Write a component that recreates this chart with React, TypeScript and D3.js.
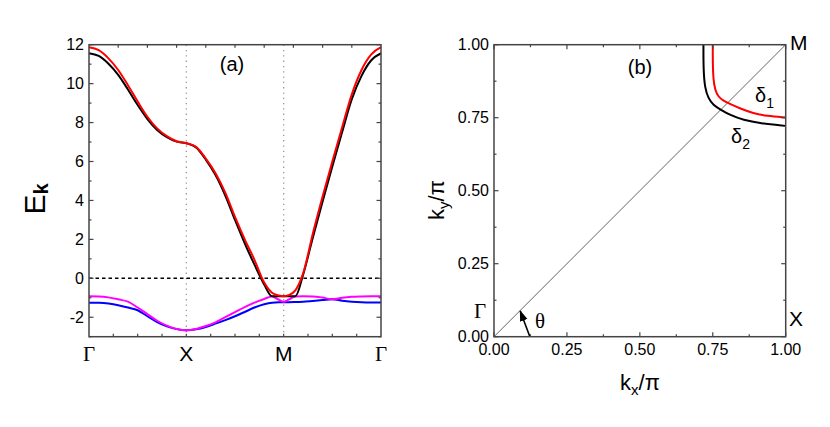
import React from 'react';
import * as d3 from 'd3';

// path Γ-X-M-Γ, each segment one unit
const kPath = [0, 0.1, 0.2, 0.3, 0.4, 0.5, 0.6, 0.7, 0.8, 0.9, 1.0, 1.1, 1.2, 1.3, 1.4, 1.5, 1.6, 1.7, 1.8, 1.88, 1.95, 2.0, 2.05, 2.12, 2.2, 2.3, 2.4, 2.5, 2.6, 2.7, 2.8, 2.9, 3.0];
const bandBlack = [11.56, 11.42, 11.02, 10.45, 9.7, 8.9, 8.18, 7.62, 7.25, 7.02, 6.94, 6.72, 6.1, 5.3, 4.25, 3.0, 1.8, 0.7, -0.32, -0.92, -0.92, -0.92, -0.92, -0.92, 0.19, 2.1, 3.95, 5.75, 7.5, 9.2, 10.4, 11.2, 11.56];
const bandRed = [11.87, 11.72, 11.3, 10.7, 9.92, 9.08, 8.3, 7.7, 7.3, 7.04, 6.94, 6.75, 6.15, 5.4, 4.4, 3.15, 2.0, 0.95, -0.22, -0.74, -0.88, -0.92, -0.87, -0.62, 0.25, 2.3, 4.2, 6.0, 7.75, 9.45, 10.7, 11.5, 11.87];
const bandMagenta = [-0.92, -0.93, -0.98, -1.08, -1.2, -1.5, -1.84, -2.18, -2.43, -2.6, -2.67, -2.6, -2.45, -2.26, -2.0, -1.74, -1.48, -1.25, -1.06, -0.93, -1.1, -1.21, -1.1, -0.93, -0.92, -0.93, -0.99, -1.08, -1.0, -0.95, -0.93, -0.92, -0.92];
const bandBlue = [-1.25, -1.26, -1.3, -1.38, -1.5, -1.64, -1.95, -2.25, -2.47, -2.61, -2.67, -2.62, -2.5, -2.33, -2.15, -1.95, -1.73, -1.5, -1.33, -1.25, -1.23, -1.23, -1.23, -1.22, -1.2, -1.16, -1.12, -1.08, -1.15, -1.2, -1.23, -1.24, -1.24];
const symPoints = ['Γ', 'X', 'M', 'Γ'];
const energyTicks = [-2, 0, 2, 4, 6, 8, 10, 12];

// Fermi surface contours, first quadrant
const delta1Kx = [0.75, 0.75, 0.752, 0.758, 0.769, 0.786, 0.809, 0.843, 0.889, 0.935, 1.0];
const delta1Ky = [1.0, 0.936, 0.879, 0.845, 0.822, 0.808, 0.797, 0.782, 0.765, 0.756, 0.751];
const delta2Kx = [0.718, 0.718, 0.723, 0.735, 0.752, 0.775, 0.809, 0.855, 0.912, 1.0];
const delta2Ky = [1.0, 0.913, 0.851, 0.816, 0.793, 0.779, 0.759, 0.742, 0.731, 0.722];
const fsTicks = [0, 0.25, 0.5, 0.75, 1];
const thetaArrow = { from: [0.123, 0], to: [0.09, 0.088] };

const SANS = 'Liberation Sans, Arial, sans-serif';
const SERIF = 'Liberation Serif, Times New Roman, serif';
const FRAME = '#444';

const PanelA = () => {
  const x = d3.scaleLinear().domain([0, 3]).range([89, 381]);
  const y = d3.scaleLinear().domain([-3, 12]).range([336.7, 44.7]);
  const line = (vals: number[]) =>
    d3.line<number>().x((_, i) => x(kPath[i])).y(d => y(d)).curve(d3.curveMonotoneX)(vals) as string;

  const minorY = d3.range(-3, 12.01, 1);
  const topTicks = d3.range(0.3, 2.99, 0.3);
  const bottomTicks = d3.range(0.25, 2.99, 0.25);

  return (
    <g>
      {[1, 2].map(k => (
        <line key={k} x1={x(k)} x2={x(k)} y1={y(12)} y2={y(-3)} stroke="#999" strokeWidth={1.3} strokeDasharray="1.3,4" />
      ))}
      <line x1={x(0)} x2={x(3)} y1={y(0)} y2={y(0)} stroke="#000" strokeWidth={1.6} strokeDasharray="3.5,3" />
      <path d={line(bandBlue)} fill="none" stroke="#0000ff" strokeWidth={2} />
      <path d={line(bandMagenta)} fill="none" stroke="#ff00ff" strokeWidth={2} />
      <path d={line(bandBlack)} fill="none" stroke="#000" strokeWidth={2} />
      <path d={line(bandRed)} fill="none" stroke="#ff0000" strokeWidth={2} />

      <rect x={x(0)} y={y(12)} width={x(3) - x(0)} height={y(-3) - y(12)} fill="none" stroke={FRAME} strokeWidth={1.5} />
      {minorY.map(v => {
        const major = energyTicks.includes(v);
        const len = major ? 4.5 : 2.5;
        return (
          <g key={v}>
            <line x1={x(0)} x2={x(0) + len} y1={y(v)} y2={y(v)} stroke={FRAME} strokeWidth={1.2} />
            <line x1={x(3)} x2={x(3) - len} y1={y(v)} y2={y(v)} stroke={FRAME} strokeWidth={1.2} />
          </g>
        );
      })}
      {topTicks.map(v => (
        <line key={'t' + v} x1={x(v)} x2={x(v)} y1={y(12)} y2={y(12) + 3} stroke={FRAME} strokeWidth={1.2} />
      ))}
      {bottomTicks.map(v => (
        <line key={'b' + v} x1={x(v)} x2={x(v)} y1={y(-3)} y2={y(-3) - 3} stroke={FRAME} strokeWidth={1.2} />
      ))}
      {energyTicks.map(v => (
        <text key={'l' + v} x={x(0) - 5} y={y(v) + 5.5} textAnchor="end" fontFamily={SANS} fontSize={16} fill="#000">{v}</text>
      ))}
      {symPoints.map((s, i) => (
        <text key={'s' + i} x={x(i)} y={361} textAnchor="middle" fontFamily={s === 'Γ' ? SERIF : SANS} fontSize={21} fill="#000">{s}</text>
      ))}
      <text transform="translate(45,199) rotate(-90)" textAnchor="middle" fontFamily={SANS} fontSize={30} fill="#000">
        E<tspan fontSize={20} fontWeight="bold" dy={3}>k</tspan>
      </text>
      <text x={232} y={71} textAnchor="middle" fontFamily={SANS} fontSize={20} fill="#000">(a)</text>
    </g>
  );
};

const PanelB = () => {
  const x = d3.scaleLinear().domain([0, 1]).range([494, 785.7]);
  const y = d3.scaleLinear().domain([0, 1]).range([336.7, 44.7]);
  const contour = (kx: number[], ky: number[]) =>
    d3.line<number>().x(d => x(d)).y((_, i) => y(ky[i])).curve(d3.curveBasis)(kx) as string;
  const allTicks = d3.range(0, 1.001, 0.125);

  return (
    <g>
      <defs>
        <marker id="arrowHead" viewBox="0 0 10 10" refX="9" refY="5" markerWidth="7" markerHeight="7" orient="auto">
          <path d="M0,1.5 L10,5 L0,8.5 z" fill="#000" />
        </marker>
      </defs>
      <line x1={x(0)} y1={y(0)} x2={x(1)} y2={y(1)} stroke="#222" strokeWidth={0.7} />
      <path d={contour(delta2Kx, delta2Ky)} fill="none" stroke="#000" strokeWidth={2} />
      <path d={contour(delta1Kx, delta1Ky)} fill="none" stroke="#ff0000" strokeWidth={2} />
      <line x1={x(thetaArrow.from[0])} y1={y(thetaArrow.from[1])} x2={x(thetaArrow.to[0])} y2={y(thetaArrow.to[1])}
        stroke="#000" strokeWidth={1.6} markerEnd="url(#arrowHead)" />

      <rect x={x(0)} y={y(1)} width={x(1) - x(0)} height={y(0) - y(1)} fill="none" stroke={FRAME} strokeWidth={1.5} />
      {allTicks.map((v, i) => {
        const len = i % 2 === 0 ? 4.5 : 2.5;
        return (
          <g key={v}>
            <line x1={x(0)} x2={x(0) + len} y1={y(v)} y2={y(v)} stroke={FRAME} strokeWidth={1.2} />
            <line x1={x(1)} x2={x(1) - len} y1={y(v)} y2={y(v)} stroke={FRAME} strokeWidth={1.2} />
            <line x1={x(v)} x2={x(v)} y1={y(0)} y2={y(0) - len} stroke={FRAME} strokeWidth={1.2} />
            <line x1={x(v)} x2={x(v)} y1={y(1)} y2={y(1) + len} stroke={FRAME} strokeWidth={1.2} />
          </g>
        );
      })}
      {fsTicks.map(v => (
        <g key={'l' + v}>
          <text x={x(0) - 5} y={y(v) + 5.5} textAnchor="end" fontFamily={SANS} fontSize={16} fill="#000">{v.toFixed(2)}</text>
          <text x={x(v)} y={355} textAnchor="middle" fontFamily={SANS} fontSize={16} fill="#000">{v.toFixed(2)}</text>
        </g>
      ))}
      <text x={640} y={74} textAnchor="middle" fontFamily={SANS} fontSize={20} fill="#000">(b)</text>
      <text x={790} y={50} fontFamily={SANS} fontSize={21} fill="#000">M</text>
      <text x={789} y={326} fontFamily={SANS} fontSize={21} fill="#000">X</text>
      <text x={474} y={318} fontFamily={SERIF} fontSize={21} fill="#000">Γ</text>
      <text x={535} y={328} fontFamily={SERIF} fontSize={21} fill="#000">θ</text>
      <text x={755} y={102} fontFamily={SANS} fontSize={20} fill="#000">δ<tspan fontSize={14} dy={6}>1</tspan></text>
      <text x={731} y={143} fontFamily={SANS} fontSize={20} fill="#000">δ<tspan fontSize={14} dy={6}>2</tspan></text>
      <text x={640} y={390} textAnchor="middle" fontFamily={SANS} fontSize={22} fill="#000">
        k<tspan fontSize={15} dy={5}>x</tspan><tspan dy={-5}>/π</tspan>
      </text>
      <text transform="translate(444,200) rotate(-90)" textAnchor="middle" fontFamily={SANS} fontSize={22} fill="#000">
        k<tspan fontSize={15} dy={5}>y</tspan><tspan dy={-5}>/π</tspan>
      </text>
    </g>
  );
};

export default function App() {
  return (
    <svg width={830} height={427} style={{ position: 'absolute', left: 0, top: 0, background: '#fff' }}>
      <rect width={830} height={427} fill="#fff" />
      <PanelA />
      <PanelB />
    </svg>
  );
}
